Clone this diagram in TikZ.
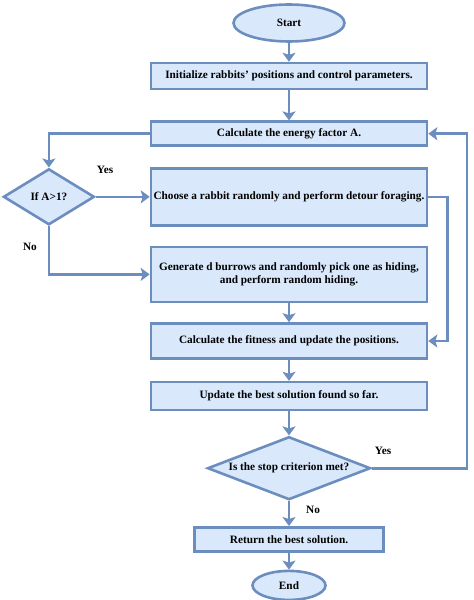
\documentclass[tikz,border=0pt]{standalone}
\usepackage{fontspec}
\setmainfont{Liberation Serif}
\usetikzlibrary{positioning,shapes.geometric,arrows.meta}

\definecolor{boxfill}{HTML}{DAE8FC}
\definecolor{boxline}{HTML}{6C8EBF}

\begin{document}
\begin{tikzpicture}[x=1bp,y=-1bp,
  txt/.style={font=\fontsize{11.3}{13.6}\selectfont\bfseries},
  box/.style={txt, draw=boxline, fill=boxfill, line width=2.6bp, minimum width=276bp, align=center, inner sep=2bp},
  oval/.style={box, ellipse},
  decision/.style={box, diamond, inner sep=0pt},
  arrow/.style={draw=boxline, line width=2.6bp, -{Stealth[length=9bp,width=13bp,inset=2bp]}},
  lbl/.style={txt}
]
 \useasboundingbox (0,0) rectangle (474,600);

 %Steps
 \node (start) [oval, minimum width=111bp, minimum height=37bp] at (289,23) {Start};
 \node (init) [box, below=19bp of start, minimum height=26bp] {Initialize rabbits' positions and control parameters.};
 \node (energy) [box, below=30bp of init, minimum height=24bp] {Calculate the energy factor A.};
 \node (choose) [box, below=20bp of energy, minimum height=57bp] {Choose a rabbit randomly and perform detour foraging.};
 \node (generate) [box, below=19bp of choose, minimum height=55bp] {Generate d burrows and randomly pick one as hiding,\\and perform random hiding.};
 \node (fitness) [box, below=19bp of generate, minimum height=35bp] {Calculate the fitness and update the positions.};
 \node (best) [box, below=21bp of fitness, minimum height=28bp] {Update the best solution found so far.};
 \node (stop) [decision, aspect=2.65, below=24bp of best, minimum width=163bp, minimum height=63bp] {Is the stop criterion met?};
 \node (ret) [box, below=25bp of stop, minimum width=189bp, minimum height=24bp] {Return the best solution.};
 \node (end) [oval, below=17bp of ret, minimum width=73bp, minimum height=29bp] {End};

 %Decision
 \node (ifA) [decision, aspect=1.63, left=54bp of choose, minimum width=91bp, minimum height=56bp] {If A>1?};

 %Labels
 \node (yesA) [lbl] at (105,170) {Yes};
 \node (noA) [lbl] at (30,247) {No};
 \node (yesStop) [lbl] at (383,451) {Yes};
 \node (noStop) [lbl] at (313,510) {No};

 %Arrows
 \draw[arrow] (start) -- (init);
 \draw[arrow] (init) -- (energy);
 \draw[arrow] (energy.west) -| (ifA.north);
 \draw[arrow] (ifA.east) -- (choose.west);
 \draw[arrow] (ifA.south) |- (generate.west);
 \draw[arrow] (choose.east) -- ++(19,0) |- (fitness.east);
 \draw[arrow] (generate) -- (fitness);
 \draw[arrow] (fitness) -- (best);
 \draw[arrow] (best) -- (stop);
 \draw[arrow] (stop) -- (ret);
 \draw[arrow] (ret) -- (end);
 \draw[arrow] (stop.east) -- ++(95,0) |- (energy.east);

\end{tikzpicture}
\end{document}
